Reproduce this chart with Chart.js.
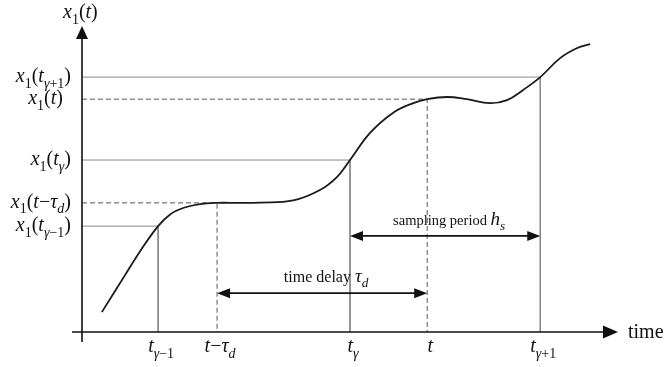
<!DOCTYPE html>
<html>
<head>
<meta charset="utf-8">
<script src="https://cdn.jsdelivr.net/npm/chart.js@4"></script>
<style>
  html, body { margin: 0; padding: 0; background: #fff; }
  #wrap { width: 665px; height: 367px; position: relative; }
</style>
</head>
<body>
<div id="wrap"><canvas id="chart"></canvas></div>
<script>
// sample instants on the time axis and their labels
const tTicks = [1.42, 2.52, 5.0, 6.44, 8.55];
const tLabels = ['t_{γ−1}', 't−τ_d', 't_γ', 't', 't_{γ+1}'];

// signal value at each instant and the labels on the vertical axis
const xLevels = [3.46, 4.22, 5.62, 7.61, 8.33];
const xLabels = ['x_1(t_{γ−1})', 'x_1(t−τ_d)', 'x_1(t_γ)', 'x_1(t)', 'x_1(t_{γ+1})'];
const dashedGuide = [false, true, false, true, false];

// the signal x1(t)
const curveT = [0.37, 0.80, 1.10, 1.42, 1.65, 1.90, 2.20, 2.52, 2.90, 3.32, 3.94, 4.44, 4.76, 5.00, 5.37, 5.80, 6.18, 6.44, 6.81, 7.18, 7.61, 7.93, 8.23, 8.55, 8.92, 9.24, 9.48];
const curveX = [0.65, 1.85, 2.68, 3.46, 3.85, 4.06, 4.18, 4.22, 4.22, 4.23, 4.30, 4.64, 5.07, 5.62, 6.50, 7.16, 7.48, 7.61, 7.68, 7.61, 7.48, 7.58, 7.91, 8.33, 8.95, 9.28, 9.41];

// interval arrows: [from, to] on the time axis, height on the x1 axis
const delayArrow = { from: tTicks[1], to: tTicks[3], level: 1.27, text: 'time delay ', math: 'τ_d', size: 16 };
const samplingArrow = { from: tTicks[2], to: tTicks[4], level: 3.14, text: 'sampling period ', math: 'h_s', size: 14.5 };

const SERIF = '"Liberation Serif", "Times New Roman", serif';

function parseMath(s) {
    const runs = [];
    let i = 0;
    while (i < s.length) {
        if (s[i] === '_') {
            let sub;
            if (s[i + 1] === '{') {
                const j = s.indexOf('}', i);
                sub = s.slice(i + 2, j);
                i = j + 1;
            } else {
                sub = s[i + 1];
                i += 2;
            }
            for (const ch of sub) runs.push({ ch, sub: true });
        } else {
            runs.push({ ch: s[i], sub: false });
            i++;
        }
    }
    return runs;
}

function runFont(r, size) {
    const italic = /[A-Za-zα-ω]/.test(r.ch);
    const px = r.sub ? size * 0.7 : size;
    return (italic ? 'italic ' : '') + px + 'px ' + SERIF;
}

function mathWidth(ctx, s, size) {
    let w = 0;
    parseMath(s).forEach(r => {
        ctx.font = runFont(r, size);
        w += ctx.measureText(r.ch).width;
    });
    return w;
}

// draws math text with baseline y, starting at x; returns end x
function drawMath(ctx, s, x, y, size) {
    ctx.textAlign = 'left';
    ctx.textBaseline = 'alphabetic';
    parseMath(s).forEach(r => {
        ctx.font = runFont(r, size);
        ctx.fillText(r.ch, x, r.sub ? y + size * 0.28 : y);
        x += ctx.measureText(r.ch).width;
    });
    return x;
}

function arrowHead(ctx, x, y, dir, len, half) {
    // dir: 'up', 'right', 'left'
    ctx.beginPath();
    if (dir === 'up') {
        ctx.moveTo(x, y);
        ctx.lineTo(x - half, y + len);
        ctx.lineTo(x + half, y + len);
    } else if (dir === 'right') {
        ctx.moveTo(x, y);
        ctx.lineTo(x - len, y - half);
        ctx.lineTo(x - len, y + half);
    } else {
        ctx.moveTo(x, y);
        ctx.lineTo(x + len, y - half);
        ctx.lineTo(x + len, y + half);
    }
    ctx.closePath();
    ctx.fill();
}

const diagramPlugin = {
    id: 'diagram',
    afterDatasetsDraw(chart) {
        const ctx = chart.ctx;
        const xs = chart.scales.x;
        const ys = chart.scales.y;
        const area = chart.chartArea;
        ctx.save();
        ctx.fillStyle = '#111';
        ctx.strokeStyle = '#111';
        ctx.lineWidth = 1.6;

        // axes
        ctx.beginPath();
        ctx.moveTo(area.left, area.bottom + 10);
        ctx.lineTo(area.left, area.top + 12);
        ctx.moveTo(area.left - 10, area.bottom);
        ctx.lineTo(area.right - 14, area.bottom);
        ctx.stroke();
        arrowHead(ctx, area.left, area.top, 'up', 13, 6);
        arrowHead(ctx, area.right, area.bottom, 'right', 15, 6.5);

        // axis titles
        drawMath(ctx, 'x_1(t)', area.left - 19, area.top - 8, 20);
        ctx.font = '20px ' + SERIF;
        ctx.textAlign = 'left';
        ctx.fillText('time', area.right + 10, area.bottom + 6);

        // tick labels on the time axis
        tTicks.forEach((t, i) => {
            const px = xs.getPixelForValue(t);
            const w = mathWidth(ctx, tLabels[i], 20);
            drawMath(ctx, tLabels[i], px - w / 2 + 3, area.bottom + 20, 20);
        });

        // tick labels on the x1 axis
        xLevels.forEach((v, i) => {
            const py = ys.getPixelForValue(v);
            const w = mathWidth(ctx, xLabels[i], 20);
            const right = xLabels[i] === 'x_1(t)' ? area.left - 19 : area.left - 11;
            drawMath(ctx, xLabels[i], right - w, py + 5, 20);
        });

        // interval arrows with their captions
        [delayArrow, samplingArrow].forEach(a => {
            const x0 = xs.getPixelForValue(a.from);
            const x1 = xs.getPixelForValue(a.to);
            const y = ys.getPixelForValue(a.level);
            ctx.lineWidth = 1.6;
            ctx.beginPath();
            ctx.moveTo(x0 + 10, y);
            ctx.lineTo(x1 - 10, y);
            ctx.stroke();
            arrowHead(ctx, x0, y, 'left', 13, 5);
            arrowHead(ctx, x1, y, 'right', 13, 5);

            const mw = mathWidth(ctx, a.math, 19);
            ctx.font = a.size + 'px ' + SERIF;
            const tw = ctx.measureText(a.text).width;
            const sx = (x0 + x1) / 2 - (tw + mw) / 2 + 4;
            ctx.textAlign = 'left';
            ctx.textBaseline = 'alphabetic';
            ctx.fillText(a.text, sx, y - 11);
            drawMath(ctx, a.math, sx + tw, y - 11, 19);
        });
        ctx.restore();
    }
};

// guide lines from the x1 axis to the curve and down to the time axis
const guideSets = tTicks.map((t, i) => ({
    data: [{ x: 0, y: xLevels[i] }, { x: t, y: xLevels[i] }, { x: t, y: 0 }],
    borderColor: dashedGuide[i] ? '#555' : '#888',
    borderWidth: 1,
    borderDash: dashedGuide[i] ? [5, 3] : [],
    pointRadius: 0,
    tension: 0
}));

new Chart(document.querySelector('#chart').getContext('2d'), {
    type: 'line',
    data: {
        datasets: [
            {
                label: 'x1(t)',
                data: curveT.map((t, i) => ({ x: t, y: curveX[i] })),
                borderColor: '#1a1a1a',
                borderWidth: 1.8,
                pointRadius: 0,
                tension: 0.4
            },
            ...guideSets
        ]
    },
    options: {
        responsive: true,
        maintainAspectRatio: false,
        animation: false,
        layout: { padding: { left: 82, right: 47, top: 26, bottom: 35 } },
        scales: {
            x: { type: 'linear', min: 0, max: 10, display: false },
            y: { type: 'linear', min: 0, max: 10, display: false }
        },
        plugins: {
            legend: { display: false },
            tooltip: { enabled: false }
        }
    },
    plugins: [diagramPlugin]
});
</script>
</body>
</html>
